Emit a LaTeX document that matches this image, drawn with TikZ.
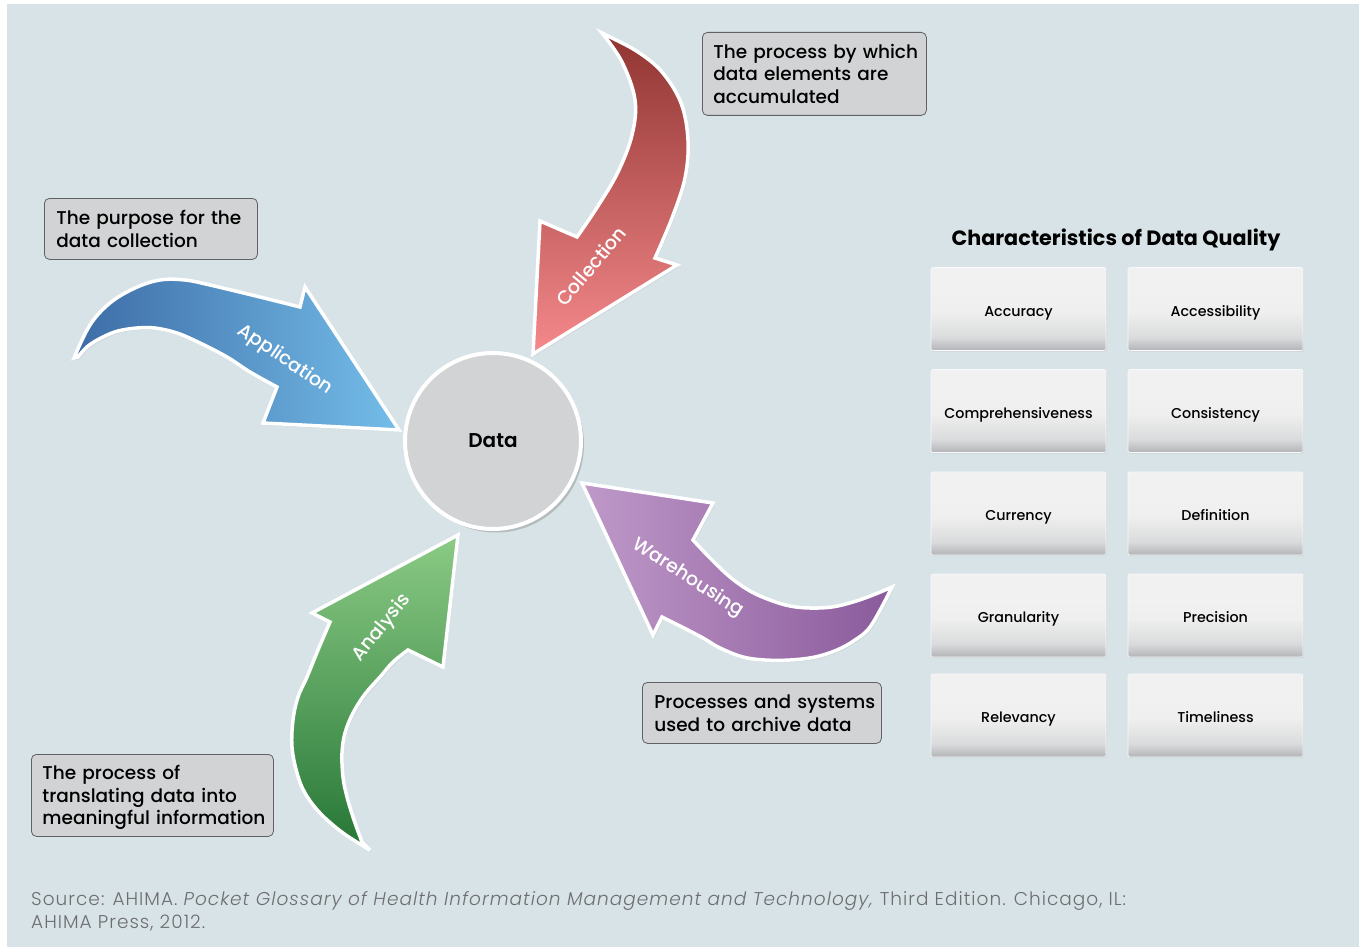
\documentclass[tikz,border=0pt]{standalone}
\usepackage{fontspec}
\setmainfont{Poppins}
\newfontfamily\medfont{Poppins Medium}
\newfontfamily\semifont{Poppins SemiBold}
\newfontfamily\lightfont{Poppins Light}[ItalicFont={Poppins Light Italic}, LetterSpace=5.5]
\usetikzlibrary{shadows}

\definecolor{bgc}{HTML}{D8E3E7}
\definecolor{boxc}{HTML}{D1D3D4}
\definecolor{edgec}{HTML}{606164}
\definecolor{notec}{HTML}{6D6E71}
\definecolor{cellD}{HTML}{B3B4B7}
\definecolor{cellM}{HTML}{DADBDC}
\definecolor{cellL}{HTML}{F1F1F1}
\definecolor{redA}{HTML}{903531}
\definecolor{redB}{HTML}{F5898C}
\definecolor{blueA}{HTML}{3D6CA6}
\definecolor{blueB}{HTML}{74BDE9}
\definecolor{greenA}{HTML}{267636}
\definecolor{greenB}{HTML}{8BCB85}
\definecolor{purA}{HTML}{BF99C9}
\definecolor{purB}{HTML}{8A5A9B}

\pgfdeclareverticalshading{cellshade}{100bp}{%
  color(0bp)=(cellD); color(25bp)=(cellD); color(33bp)=(cellM);
  color(48bp)=(cellL!90!cellM); color(60bp)=(cellL); color(100bp)=(cellL)}

% left-aligned block of lines that keeps each line unbroken, set slightly low
\newcommand{\notelines}[1]{\raisebox{-2.5pt}[\height][\depth]{\begin{tabular}{@{}l@{}}#1\end{tabular}}}

\tikzset{
  flow/.style={draw=white, line width=3.5pt, line join=miter, miter limit=6,
    drop shadow={shadow xshift=1.5pt, shadow yshift=-2pt, opacity=0.18}},
  flowlabel/.style={text=white, font=\medfont\fontsize{19}{21}\selectfont, inner sep=0pt},
  notebox/.style={draw=edgec, line width=0.8pt, fill=boxc, rounded corners=5pt,
    anchor=north west, align=left, inner ysep=0pt,
    font=\medfont\fontsize{18.5}{22.5}\selectfont},
  cell/.style={shading=cellshade, draw=white!60!cellL, line width=0.6pt,
    rounded corners=2pt, minimum width=175pt, minimum height=83pt,
    text height=14.5pt, text depth=0pt,
    font=\medfont\fontsize{14.3}{17}\selectfont,
    drop shadow={shadow xshift=0.8pt, shadow yshift=-1.2pt, opacity=0.15}},
}

\begin{document}
\begin{tikzpicture}[x=1pt, y=-1pt]
\useasboundingbox (0,0) rectangle (1359,947);
\fill[white] (0,0) rectangle (1359,947);
\fill[bgc] (7,4) rectangle (1359,947);

% Collection arrow (top, pointing down-left)
\path[flow, top color=redA, bottom color=redB]
  plot[smooth, tension=0.6] coordinates {(602,33) (622,62) (635,100) (632,135) (618,172) (598,206) (577,237)}
  -- (540,221) -- (533,354) -- (677,265) -- (655,258)
  -- plot[smooth, tension=0.6] coordinates {(655,258) (672,218) (685,178) (688,140) (681,103) (662,72) (638,52) (612,38)}
  -- cycle;
\node[flowlabel, rotate=50] (lblcol) at (591,266) {Collection};

% Application arrow (left, pointing right)
\path[flow, left color=blueA, right color=blueB]
  plot[smooth, tension=0.6] coordinates {(74,358) (90,325) (110,303) (135,288) (160,280) (185,280) (210,285) (260,297) (300,307)}
  -- (305,287) -- (399,430) -- (263,423) -- (277,387)
  -- plot[smooth, tension=0.6] coordinates {(277,387) (250,372) (227,357) (200,343) (177,333) (155,328) (137,328) (118,331) (103,337) (88,346) (78,357)}
  -- cycle;
\node[flowlabel, rotate=-34] (lblapp) at (285,360) {Application};

% Analysis arrow (bottom left, pointing up)
\path[flow, bottom color=greenA, top color=greenB]
  (458,535) -- (443,667) -- (408,650)
  -- plot[smooth, tension=0.6] coordinates {(408,650) (393,662) (380,677) (365,694) (353,713) (345,733) (342,753) (343,777) (347,797) (354,820) (362,842)}
  -- (370,850)
  -- plot[smooth, tension=0.6] coordinates {(370,850) (343,833) (320,813) (305,793) (297,773) (292,747) (293,720) (298,697) (307,677) (318,650) (330,622)}
  -- (312,613) -- cycle;
\node[flowlabel, rotate=51] (lblana) at (382,628) {Analysis};

% Warehousing arrow (bottom right, pointing up-left)
\path[flow, left color=purA, right color=purB]
  (582,483) -- (713,503) -- (693,540)
  -- plot[smooth, tension=0.6] coordinates {(693,540) (710,558) (730,577) (750,591) (770,600) (790,606) (810,608) (832,607) (853,602) (873,595) (892,587)}
  -- (887,597)
  -- plot[smooth, tension=0.6] coordinates {(887,597) (870,627) (855,640) (837,650) (815,657) (790,660) (765,660) (743,657) (720,648) (703,638) (682,627) (662,617)}
  -- (653,635) -- cycle;
\node[flowlabel, rotate=-33] (lblwar) at (688,578) {Warehousing};

% Central data circle
\node[circle, draw=white, line width=4pt, fill=boxc, minimum size=176pt,
  font=\semifont\fontsize{20}{24}\selectfont,
  drop shadow={shadow xshift=3pt, shadow yshift=-3.5pt, opacity=0.4}] (data) at (493,441) {Data};

% Description boxes
\node[notebox, minimum width=213pt, minimum height=61pt, text width=189pt, inner xsep=12pt] (purpose) at (44,198)
  {\notelines{The purpose for the\\data collection}};
\node[notebox, minimum width=224pt, minimum height=83pt, text width=202pt, inner xsep=11pt] (collect) at (702,32)
  {\notelines{The process by which\\data elements are\\accumulated}};
\node[notebox, minimum width=242pt, minimum height=82pt, text width=220pt, inner xsep=11pt] (translate) at (31,754)
  {\notelines{The process of\\translating data into\\meaningful information}};
\node[notebox, minimum width=239pt, minimum height=61pt, text width=215pt, inner xsep=12pt] (archive) at (642,682)
  {\notelines{Processes and systems\\used to archive data}};

% Characteristics of data quality
\node[font=\bfseries\fontsize{20.7}{24}\selectfont, inner sep=0pt] (qtitle) at (1116,240) {Characteristics of Data Quality};

\node[cell] (c1) at (1018.5,309) {Accuracy};
\node[cell] (c2) at (1215.5,309) {Accessibility};
\node[cell] (c3) at (1018.5,411) {Comprehensiveness};
\node[cell] (c4) at (1215.5,411) {Consistency};
\node[cell] (c5) at (1018.5,513.5) {Currency};
\node[cell] (c6) at (1215.5,513.5) {Definition};
\node[cell] (c7) at (1018.5,615.5) {Granularity};
\node[cell] (c8) at (1215.5,615.5) {Precision};
\node[cell] (c9) at (1018.5,715.5) {Relevancy};
\node[cell] (c10) at (1215.5,715.5) {Timeliness};

% Source note
\node[anchor=north west, align=left, inner sep=0pt, text=notec,
  font=\lightfont\fontsize{18.5}{23.5}\selectfont] (source) at (31,891)
  {Source: AHIMA. \textit{Pocket Glossary of Health Information Management and Technology,} Third Edition. Chicago, IL:\\AHIMA Press, 2012.};
\end{tikzpicture}
\end{document}
